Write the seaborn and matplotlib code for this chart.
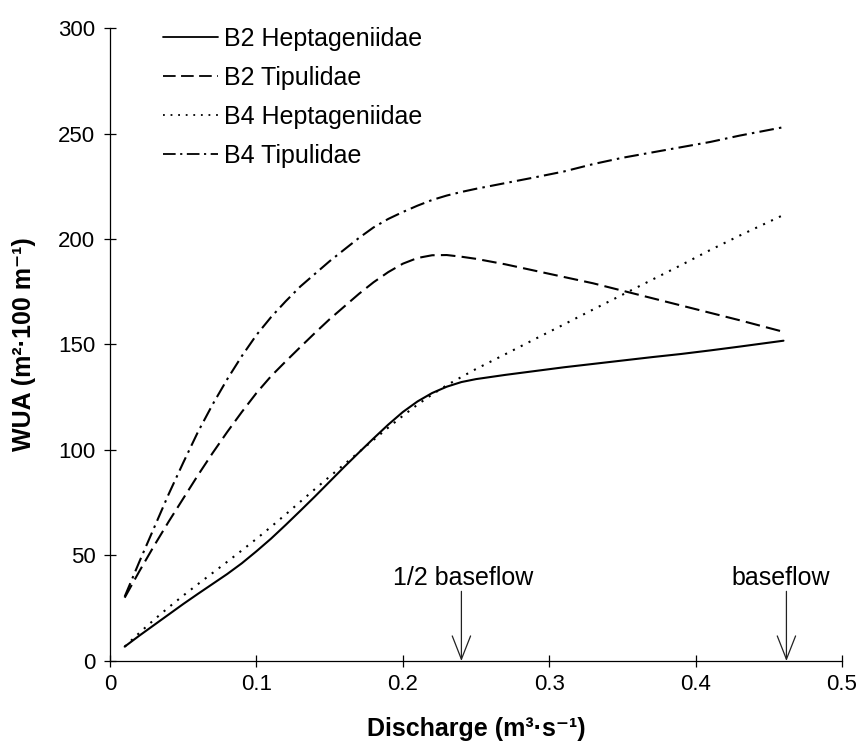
import numpy as np
import pandas as pd
import seaborn as sns
import matplotlib.pyplot as plt

# Discharge (m3/s) at which the weighted usable area was evaluated
discharge = [0.01, 0.02, 0.03, 0.04, 0.05, 0.06, 0.07, 0.08, 0.09, 0.1,
             0.11, 0.12, 0.13, 0.14, 0.15, 0.16, 0.17, 0.18, 0.19, 0.2,
             0.21, 0.22, 0.23, 0.24, 0.25, 0.27, 0.29, 0.31, 0.33, 0.35,
             0.37, 0.39, 0.41, 0.43, 0.46]

# Weighted usable area (m2 per 100 m) for each reach / taxon
b2_heptageniidae = [6.8, 12, 17, 22, 27, 31.8, 36.5, 41.2, 46.3, 52,
                    58, 64.5, 71.2, 78, 85, 92, 98.8, 105.5, 112, 118,
                    123, 127, 130, 132.2, 133.6, 135.6, 137.4, 139.2, 140.8, 142.4,
                    144, 145.5, 147.2, 149, 151.8]
b2_tipulidae = [30, 42.5, 54.5, 66, 77, 88, 98.5, 108.5, 118, 127,
                135, 142, 148.8, 155.5, 162, 168, 174, 179.5, 184.3, 188.3,
                191, 192.3, 192.4, 191.6, 190.6, 188, 185, 182, 179, 175.5,
                172, 168.5, 165, 161.5, 156]
b4_heptageniidae = [6.8, 13.3, 19.5, 25.4, 31, 36.4, 41.7, 47, 52.4, 57.9,
                    63.6, 69.5, 75.5, 81.5, 87.4, 93.2, 99, 104.8, 110.6, 116.2,
                    121.5, 126.3, 130.7, 134.6, 138.4, 145.4, 152.5, 159.5, 166.6, 173.6,
                    180.6, 187.6, 194.8, 201.6, 211.4]
b4_tipulidae = [30.5, 47, 63, 79, 94, 108.5, 121.5, 133.5, 144.5, 154.5,
                163, 170.5, 177.5, 183.5, 189.5, 195, 200.5, 205.5, 209.5, 212.8,
                215.8, 218.5, 220.6, 222.3, 223.8, 226.5, 229.2, 232, 235.5, 238.5,
                241, 243.5, 246, 249, 253]

series_names = ["B2 Heptageniidae", "B2 Tipulidae", "B4 Heptageniidae", "B4 Tipulidae"]
series_values = [b2_heptageniidae, b2_tipulidae, b4_heptageniidae, b4_tipulidae]

x_ticks = [0, 0.1, 0.2, 0.3, 0.4, 0.5]
x_tick_labels = ["0", "0.1", "0.2", "0.3", "0.4", "0.5"]
y_ticks = [0, 50, 100, 150, 200, 250, 300]

half_baseflow = 0.24
baseflow = 0.462

frames = []
for name, vals in zip(series_names, series_values):
    frames.append(pd.DataFrame({"Discharge": discharge, "WUA": vals, "Series": name}))
df = pd.concat(frames, ignore_index=True)

sns.set_theme(style="ticks")
plt.rcParams["font.family"] = ["Liberation Sans", "DejaVu Sans"]
plt.rcParams["text.color"] = "black"
plt.rcParams["axes.labelcolor"] = "black"
plt.rcParams["xtick.color"] = "black"
plt.rcParams["ytick.color"] = "black"

fig = plt.figure(figsize=(8.61, 7.53), dpi=100)
ax = fig.add_axes([0.1278, 0.1222, 0.8502, 0.8406])

dash_map = {
    "B2 Heptageniidae": "",
    "B2 Tipulidae": (7.0, 3.0),
    "B4 Heptageniidae": (1.0, 3.2),
    "B4 Tipulidae": (7.0, 2.5, 1.2, 2.5),
}

sns.lineplot(data=df, x="Discharge", y="WUA", style="Series",
             style_order=series_names, dashes=dash_map, color="black",
             linewidth=1.5, estimator=None, sort=False, ax=ax)

ax.set_xlim(0, 0.5)
ax.set_ylim(0, 300)
ax.set_xticks(x_ticks)
ax.set_xticklabels(x_tick_labels)
ax.set_yticks(y_ticks)
sns.despine(ax=ax)
for side in ("left", "bottom"):
    ax.spines[side].set_linewidth(0.9)
    ax.spines[side].set_color("black")
ax.tick_params(direction="inout", length=9, width=0.9, colors="black",
               labelsize=16, pad=5)
ax.tick_params(axis="y", pad=6)

ax.set_xlabel("Discharge (m³·s⁻¹)", fontsize=18, fontweight="bold", labelpad=16)
ax.set_ylabel("WUA (m²·100 m⁻¹)", fontsize=18, fontweight="bold", labelpad=16)

# Reference flows marked with arrows
arrow_style = dict(arrowstyle="->,head_length=1.4,head_width=0.55", lw=0.9,
                   color="#222222", shrinkA=0, shrinkB=0)
ax.annotate("", xy=(half_baseflow, 0), xytext=(half_baseflow, 33),
            arrowprops=arrow_style)
ax.annotate("", xy=(baseflow, 0), xytext=(baseflow, 33),
            arrowprops=arrow_style)
ax.text(0.241, 36, "1/2 baseflow", ha="center", va="baseline", fontsize=18)
ax.text(0.458, 36, "baseflow", ha="center", va="baseline", fontsize=18)

sns.move_legend(ax, "upper left", bbox_to_anchor=(163 / 861, 1 - 27 / 753),
                bbox_transform=fig.transFigure, frameon=False, title=None,
                fontsize=18, handlelength=2.2, handletextpad=0.25,
                labelspacing=0.6, borderpad=0, borderaxespad=0)
for line in ax.get_legend().get_lines():
    line.set_linewidth(1.3)

fig.savefig("out.png", dpi=100)
